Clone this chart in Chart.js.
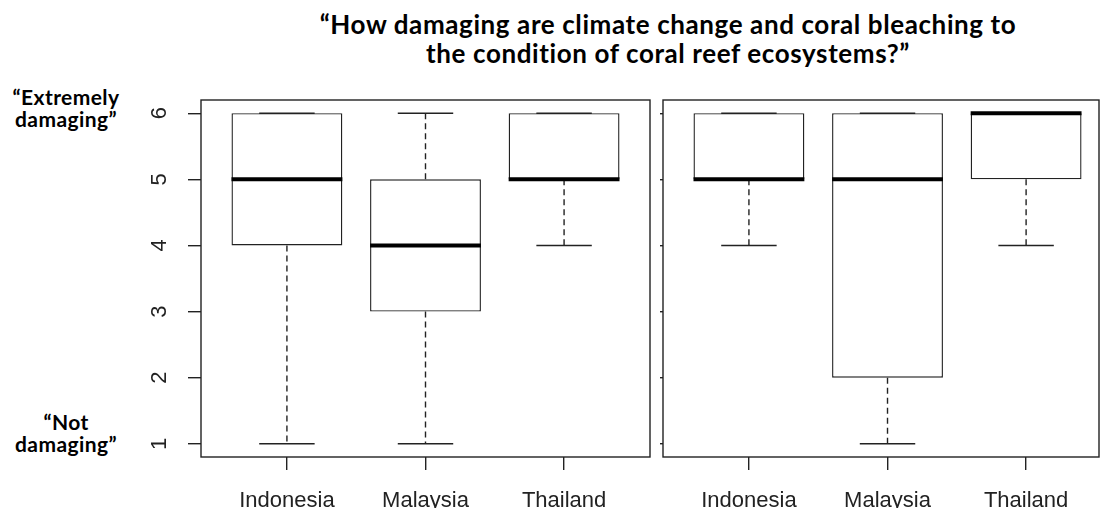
<!DOCTYPE html>
<html>
<head>
<meta charset="utf-8">
<script src="https://cdn.jsdelivr.net/npm/chart.js@4.4.1/dist/chart.umd.min.js"></script>
<style>
  html, body { margin: 0; padding: 0; background: #fff; }
  body { width: 1102px; height: 508px; position: relative; overflow: hidden; font-family: Lato, "Open Sans", sans-serif; }
  canvas { position: absolute; top: 0; }
  #left { left: 0; }
  #right { left: 600px; }
  .title { position: absolute; left: 168px; top: 10px; width: 1000px; text-align: center;
           font-weight: bold; font-size: 26px; line-height: 29px; letter-spacing: 0.6px; color: #000; white-space: nowrap; }
  .side { position: absolute; left: 0; width: 132px; text-align: center;
          font-weight: bold; font-size: 21px; line-height: 22px; letter-spacing: 0.4px; color: #000; }
</style>
</head>
<body>
<div class="title">“How damaging are climate change and coral bleaching to<br>the condition of coral reef ecosystems?”</div>
<div class="side" style="top:86px">“Extremely<br>damaging”</div>
<div class="side" style="top:411px">“Not<br>damaging”</div>
<canvas id="left" width="660" height="508"></canvas>
<canvas id="right" width="502" height="508"></canvas>
<script>
// Countries on the x axis
const categories = ['Indonesia', 'Malaysia', 'Thailand'];
// Rating scale ticks (1 = not damaging, 6 = extremely damaging)
const yTicks = [1, 2, 3, 4, 5, 6];

// Left panel five-number summaries
const leftMin    = [1, 1, 4];
const leftQ1     = [4, 3, 5];
const leftMedian = [5, 4, 5];
const leftQ3     = [6, 5, 6];
const leftMax    = [6, 6, 6];

// Right panel five-number summaries
const rightMin    = [4, 1, 4];
const rightQ1     = [5, 2, 5];
const rightMedian = [5, 5, 6];
const rightQ3     = [6, 6, 6];
const rightMax    = [6, 6, 6];

const INK = '#222';

// Whiskers, caps, medians and the panel frame
const boxplotExtras = {
  id: 'boxplotExtras',
  afterDatasetsDraw(chart, args, opts) {
    const { ctx, chartArea } = chart;
    const xs = chart.scales.x, ys = chart.scales.y;
    ctx.save();
    ctx.strokeStyle = INK;
    ctx.lineCap = 'butt';
    opts.q1.forEach((q1, i) => {
      const c = i + 1;
      const x = xs.getPixelForValue(c);
      // dashed whiskers
      ctx.lineWidth = 1.4;
      ctx.setLineDash([6, 4]);
      ctx.beginPath();
      ctx.moveTo(x, ys.getPixelForValue(opts.q3[i]));
      ctx.lineTo(x, ys.getPixelForValue(opts.max[i]));
      ctx.moveTo(x, ys.getPixelForValue(q1));
      ctx.lineTo(x, ys.getPixelForValue(opts.min[i]));
      ctx.stroke();
      // whisker caps
      ctx.setLineDash([]);
      ctx.beginPath();
      [opts.min[i], opts.max[i]].forEach(v => {
        const y = ys.getPixelForValue(v);
        ctx.moveTo(xs.getPixelForValue(c - 0.2), y);
        ctx.lineTo(xs.getPixelForValue(c + 0.2), y);
      });
      ctx.stroke();
      // median
      ctx.lineWidth = 4;
      ctx.strokeStyle = '#000';
      ctx.beginPath();
      const ym = ys.getPixelForValue(opts.median[i]);
      ctx.moveTo(xs.getPixelForValue(c - 0.4), ym);
      ctx.lineTo(xs.getPixelForValue(c + 0.4), ym);
      ctx.stroke();
      ctx.strokeStyle = INK;
    });
    // frame
    ctx.lineWidth = 1.4;
    ctx.strokeRect(chartArea.left, chartArea.top, chartArea.right - chartArea.left, chartArea.bottom - chartArea.top);
    ctx.restore();
  }
};

function makePanel(canvasId, stats, showYLabels, yWidth, xMax, rightPad) {
  return new Chart(document.getElementById(canvasId), {
    type: 'bar',
    data: {
      datasets: [{
        data: categories.map((c, i) => ({ x: i + 1, y: [stats.q1[i], stats.q3[i]] })),
        backgroundColor: '#fff',
        borderColor: INK,
        borderWidth: 1.4,
        borderSkipped: false,
        barPercentage: 0.8,
        categoryPercentage: 1
      }]
    },
    options: {
      responsive: false,
      animation: false,
      devicePixelRatio: 1,
      layout: { padding: { top: 100, right: rightPad, left: 0, bottom: 0 } },
      plugins: {
        legend: { display: false },
        tooltip: { enabled: false },
        boxplotExtras: stats
      },
      scales: {
        x: {
          type: 'linear',
          offset: false,
          min: 0.38,
          max: xMax,
          afterBuildTicks: s => { s.ticks = categories.map((c, i) => ({ value: i + 1 })); },
          afterFit: s => { s.height = 51; },
          ticks: {
            callback: (v, i) => categories[i],
            font: { family: 'Liberation Sans', size: 22 },
            color: INK,
            padding: 18,
            maxRotation: 0,
            autoSkip: false
          },
          grid: { offset: false, drawOnChartArea: false, drawTicks: true, tickLength: 13, color: INK, lineWidth: 1.4 },
          border: { display: false }
        },
        y: {
          type: 'linear',
          min: 0.8,
          max: 6.2,
          afterBuildTicks: s => { s.ticks = yTicks.map(v => ({ value: v })); },
          afterFit: s => { s.width = yWidth; },
          ticks: {
            display: showYLabels,
            font: { family: 'Liberation Sans', size: 22 },
            color: INK,
            minRotation: 90,
            maxRotation: 90,
            crossAlign: 'center',
            padding: 22
          },
          grid: { drawOnChartArea: false, drawTicks: true, tickLength: showYLabels ? 13 : 3, color: INK, lineWidth: 1.4 },
          border: { display: false }
        }
      }
    },
    plugins: [boxplotExtras]
  });
}

makePanel('left',
  { min: leftMin, q1: leftQ1, median: leftMedian, q3: leftQ3, max: leftMax },
  true, 201, 3.62, 10);
makePanel('right',
  { min: rightMin, q1: rightQ1, median: rightMedian, q3: rightQ3, max: rightMax },
  false, 63, 3.526, 3);
</script>
</body>
</html>
